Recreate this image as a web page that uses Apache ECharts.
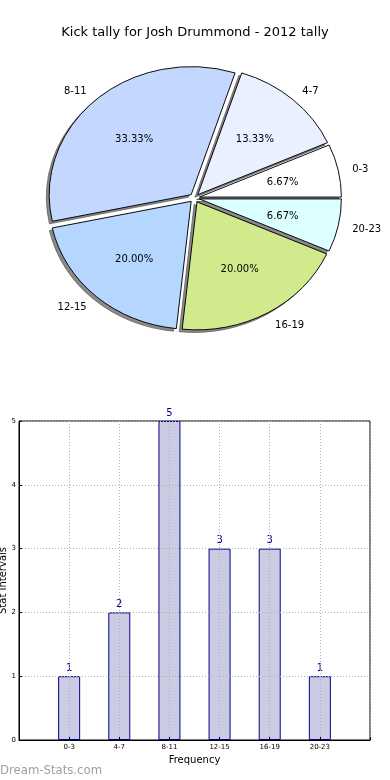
<!DOCTYPE html>
<html>
<head>
<meta charset="utf-8">
<script src="https://cdn.jsdelivr.net/npm/echarts@6/dist/echarts.min.js"></script>
<style>
html,body{margin:0;padding:0;background:#fff;}
#chart{width:390px;height:780px;}
</style>
</head>
<body>
<div id="chart"></div>
<script>
var titleText = 'Kick tally for Josh Drummond - 2012 tally';
var categories = ['0-3', '4-7', '8-11', '12-15', '16-19', '20-23'];
var counts = [1, 2, 5, 3, 3, 1];
var pieColors = ['#ffffff', '#eaf0ff', '#c4d8ff', '#b4d6ff', '#d1eb8c', '#dcffff'];
var yTicks = [0, 1, 2, 3, 4, 5];
var yAxisName = 'Stat Intervals';
var xAxisName = 'Frequency';
var watermark = 'Dream-Stats.com';

var FONT = 'DejaVu Sans';
var PIE = { cx: 194.5, cy: 198, rx: 142, ry: 128, explode: 0.035, shadow: 0.02, textDy: 1.5 };
var total = counts.reduce(function (a, b) { return a + b; }, 0);
var startDeg = [];
(function () { var acc = 0; for (var i = 0; i < counts.length; i++) { startDeg.push(acc); acc += counts[i] / total * 360; } })();

function wedgeGeom(i) {
  var a1 = startDeg[i], a2 = a1 + counts[i] / total * 360;
  var mid = (a1 + a2) / 2 * Math.PI / 180;
  return { a1: a1 * Math.PI / 180, a2: a2 * Math.PI / 180, mid: mid };
}

function sectorEl(i, dx, dy, style) {
  var g = wedgeGeom(i);
  var k = PIE.ry / PIE.rx;
  return {
    type: 'sector',
    originX: PIE.cx, originY: PIE.cy, scaleX: 1, scaleY: k,
    shape: {
      cx: PIE.cx + PIE.explode * PIE.rx * Math.cos(g.mid) + dx,
      cy: PIE.cy - PIE.explode * PIE.rx * Math.sin(g.mid) + dy,
      r: PIE.rx, r0: 0,
      startAngle: -g.a2, endAngle: -g.a1, clockwise: true
    },
    style: style
  };
}

var pieData = counts.map(function (v, i) { return [i, v]; });

var option = {
  animation: false,
  backgroundColor: '#fff',
  title: {
    text: titleText, left: 'center', top: 21,
    textStyle: { fontFamily: FONT, fontSize: 13, fontWeight: 'normal', color: '#000' }
  },
  graphic: [{
    type: 'text', left: 0, top: 764,
    style: { text: watermark, fill: '#a0a0a0', font: '13px "DejaVu Sans Condensed"' }
  }],
  grid: { left: 19, top: 421, width: 351, height: 319, containLabel: false, outerBoundsMode: 'none',
    show: true, borderColor: '#000', borderWidth: 1, backgroundColor: 'transparent' },
  xAxis: {
    type: 'value', min: -1, max: 6, interval: 1, z: 3,
    name: xAxisName, nameLocation: 'middle', nameGap: 15, nameMoveOverlap: false,
    nameTextStyle: { fontFamily: FONT, fontSize: 10, color: '#000' },
    axisLine: { show: true, onZero: false, lineStyle: { color: '#000' } },
    axisTick: { show: true, inside: true, length: 3, lineStyle: { color: '#000' } },
    axisLabel: { fontFamily: FONT, fontSize: 7, color: '#000', margin: 4,
      formatter: function (v) { return categories[v] !== undefined ? categories[v] : ''; } },
    splitLine: { show: true, lineStyle: { color: '#b0b0b0', type: [1, 2] } }
  },
  yAxis: {
    type: 'value', min: yTicks[0], max: yTicks[yTicks.length - 1], interval: 1, z: 3,
    name: yAxisName, nameLocation: 'middle', nameGap: 11, nameMoveOverlap: false,
    nameTextStyle: { fontFamily: FONT, fontSize: 10, color: '#000' },
    axisLine: { show: true, onZero: false, lineStyle: { color: '#000' } },
    axisTick: { show: true, inside: true, length: 3, lineStyle: { color: '#000' } },
    axisLabel: { fontFamily: FONT, fontSize: 7, color: '#000', margin: 3 },
    splitLine: { show: true, lineStyle: { color: '#b0b0b0', type: [1, 2] } }
  },
  series: [
    {
      type: 'custom', coordinateSystem: 'none', z: 1, silent: true,
      data: pieData,
      renderItem: function (params, api) {
        var i = params.dataIndex;
        return sectorEl(i, -PIE.shadow * PIE.rx, PIE.shadow * PIE.rx,
          { fill: '#8a8a8a', stroke: '#5a5a5a', lineWidth: 0.8, strokeNoScale: true });
      }
    },
    {
      type: 'custom', coordinateSystem: 'none', z: 2, silent: true,
      data: pieData,
      renderItem: function (params, api) {
        var i = params.dataIndex;
        var v = api.value(1);
        var g = wedgeGeom(i);
        var ex = PIE.explode;
        function pt(d) {
          return [PIE.cx + (ex + d) * PIE.rx * Math.cos(g.mid), PIE.cy - (ex + d) * PIE.ry * Math.sin(g.mid) + PIE.textDy];
        }
        var p1 = pt(0.6), p2 = pt(1.1);
        return {
          type: 'group',
          children: [
            sectorEl(i, 0, 0, { fill: pieColors[i], stroke: '#000', lineWidth: 1, strokeNoScale: true }),
            { type: 'text', x: p1[0], y: p1[1], style: { text: (v / total * 100).toFixed(2) + '%', align: 'center', verticalAlign: 'middle', fill: '#000', font: '10px "DejaVu Sans"' } },
            { type: 'text', x: p2[0], y: p2[1], style: { text: categories[i], align: Math.cos(g.mid) > 0 ? 'left' : 'right', verticalAlign: 'middle', fill: '#000', font: '10px "DejaVu Sans"' } }
          ]
        };
      }
    },
    {
      type: 'bar', z: 2,
      data: counts.map(function (v, i) { return [i, v]; }),
      barWidth: 22,
      itemStyle: { color: '#cbcbe4', borderColor: '#00008b', borderWidth: 1 },
      label: { show: true, position: 'top', distance: 3, color: '#00008b', fontFamily: FONT, fontSize: 10,
        formatter: function (p) { return String(p.value[1]); } }
    }
  ]
};

var chart = echarts.init(document.getElementById('chart'), null, { renderer: 'canvas', width: 390, height: 780 });
chart.setOption(option);
</script>
</body>
</html>
